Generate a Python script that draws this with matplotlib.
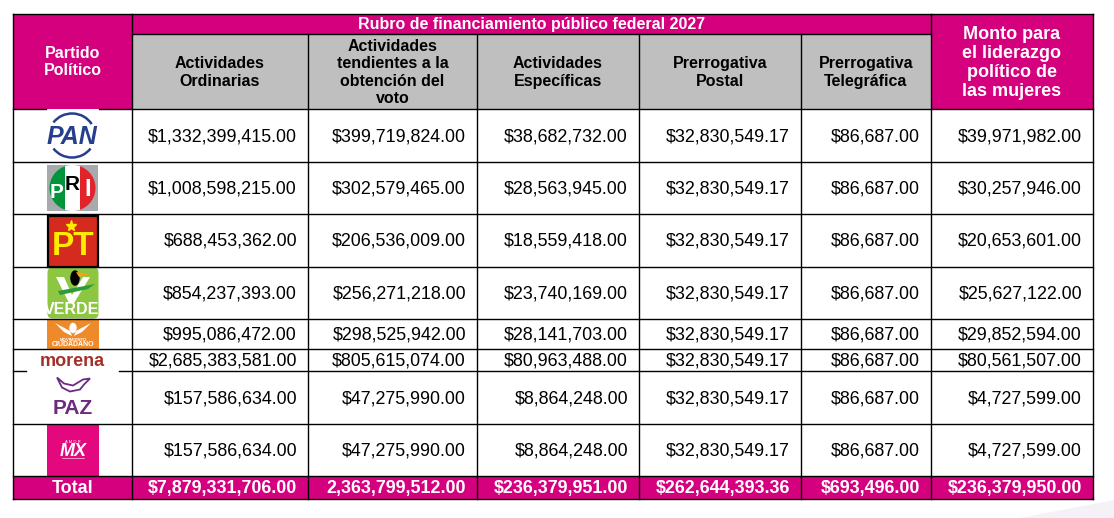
import matplotlib
matplotlib.use("Agg")
import matplotlib.pyplot as plt
from matplotlib.patches import Rectangle, Circle, Arc, Polygon, FancyBboxPatch, Ellipse

# --- table data ---
partidos = ["PAN", "PRI", "PT", "VERDE", "MC", "morena", "PAZ", "MX"]
ordinarias = [1332399415.00, 1008598215.00, 688453362.00, 854237393.00,
              995086472.00, 2685383581.00, 157586634.00, 157586634.00]
obtencion_voto = [399719824.00, 302579465.00, 206536009.00, 256271218.00,
                  298525942.00, 805615074.00, 47275990.00, 47275990.00]
especificas = [38682732.00, 28563945.00, 18559418.00, 23740169.00,
               28141703.00, 80963488.00, 8864248.00, 8864248.00]
postal = [32830549.17, 32830549.17, 32830549.17, 32830549.17,
          32830549.17, 32830549.17, 32830549.17, 32830549.17]
telegrafica = [86687.00, 86687.00, 86687.00, 86687.00,
               86687.00, 86687.00, 86687.00, 86687.00]
liderazgo_mujeres = [39971982.00, 30257946.00, 20653601.00, 25627122.00,
                     29852594.00, 80561507.00, 4727599.00, 4727599.00]
totales = ["$7,879,331,706.00", "2,363,799,512.00", "$236,379,951.00",
           "$262,644,393.36", "$693,496.00", "$236,379,950.00"]

titulo = "Rubro de financiamiento público federal 2027"
encabezados = ["Actividades\nOrdinarias",
               "Actividades\ntendientes a la\nobtención del\nvoto",
               "Actividades\nEspecíficas",
               "Prerrogativa\nPostal",
               "Prerrogativa\nTelegráfica"]
enc_partido = "Partido\nPolítico"
enc_mujeres = "Monto para\nel liderazgo\npolítico de\nlas mujeres"

columnas = [ordinarias, obtencion_voto, especificas, postal, telegrafica,
            liderazgo_mujeres]

# --- layout (pixels) ---
col_edges = [13, 132, 308, 477, 639, 801, 931, 1093]
row_edges = [109, 162, 214, 267, 319, 349, 371, 424, 476, 499]
top, band_bottom = 14, 34

MAGENTA = "#d4007d"
GRIS = "#bfbfbf"
FONT = "Liberation Sans"
NUM_SIZE = 12.9

fig = plt.figure(figsize=(11.14, 5.18), dpi=100)
ax = fig.add_axes([0, 0, 1, 1])
ax.set_xlim(0, 1114)
ax.set_ylim(518, 0)
ax.axis("off")

# faint decoration bottom-right
ax.add_patch(Polygon([(1020, 518), (1114, 500), (1114, 518)], color="#f4f2f7", lw=0))

# header backgrounds
ax.add_patch(Rectangle((col_edges[0], top), col_edges[1] - col_edges[0], row_edges[0] - top, color=MAGENTA, lw=0))
ax.add_patch(Rectangle((col_edges[1], top), col_edges[6] - col_edges[1], band_bottom - top, color=MAGENTA, lw=0))
ax.add_patch(Rectangle((col_edges[1], band_bottom), col_edges[6] - col_edges[1], row_edges[0] - band_bottom, color=GRIS, lw=0))
ax.add_patch(Rectangle((col_edges[6], top), col_edges[7] - col_edges[6], row_edges[0] - top, color=MAGENTA, lw=0))
# total row
ax.add_patch(Rectangle((col_edges[0], row_edges[-2]), col_edges[-1] - col_edges[0], row_edges[-1] - row_edges[-2], color=MAGENTA, lw=0))


# --- logos (approximations) ---
def logo_pan(cy):
    ax.add_patch(Rectangle((46, cy - 27), 53, 54, color="white", lw=0, zorder=3))
    ax.text(72, cy + 1, "PAN", color="#263f8c", fontsize=18, fontweight="bold",
            fontstyle="italic", ha="center", va="center", family=FONT, zorder=4)
    ax.add_patch(Arc((72, cy), 46, 44, theta1=215, theta2=330, color="#263f8c", lw=1.8, zorder=4))
    ax.add_patch(Arc((72, cy), 46, 44, theta1=35, theta2=145, color="#263f8c", lw=1.8, zorder=4))


def logo_pri(cy):
    ax.add_patch(Rectangle((47, cy - 23), 51, 46, color="#a7a9ac", lw=0, zorder=3))
    circ = Circle((72.5, cy), 23, transform=ax.transData)
    for x0, w, c in [(49, 16, "#00953b"), (65, 15, "white"), (80, 17, "#e3232c")]:
        r = Rectangle((x0, cy - 24), w, 48, color=c, lw=0, zorder=4)
        ax.add_patch(r)
        r.set_clip_path(circ)
    ax.text(57, cy + 4, "P", color="white", fontsize=15, fontweight="bold", ha="center", va="center", family=FONT, zorder=5)
    ax.text(72.5, cy - 3, "R", color="black", fontsize=15, fontweight="bold", ha="center", va="center", family=FONT, zorder=5)
    ax.text(88, cy + 1, "I", color="white", fontsize=17, fontweight="bold", ha="center", va="center", family=FONT, zorder=5)


def logo_pt(cy):
    ax.add_patch(Rectangle((48, cy - 25), 50, 51, facecolor="#d52b1e", edgecolor="black", lw=1.6, zorder=3))
    ax.plot([71], [cy - 15], marker="*", color="#ffed00", markersize=8, zorder=4)
    ax.text(73, cy + 6, "PT", color="#ffed00", fontsize=24, fontweight="bold", ha="center", va="center", family=FONT, zorder=4)


def logo_verde(cy):
    ax.add_patch(FancyBboxPatch((49, cy - 24), 48, 48, boxstyle="round,pad=1.5,rounding_size=5",
                                color="#8dc641", lw=0, zorder=3))
    ax.add_patch(Polygon([(56, cy - 16), (64, cy - 16), (72, cy + 2), (83, cy - 16), (90, cy - 16), (74, cy + 10), (69, cy + 10)],
                         color="white", lw=0, zorder=4))
    ax.add_patch(Polygon([(58, cy - 2), (95, cy - 9), (88, cy - 4), (60, cy + 2)], color="#2e9b3a", lw=0, zorder=5))
    ax.add_patch(Ellipse((75, cy - 15), 8, 14, color="black", zorder=5))
    ax.add_patch(Polygon([(76, cy - 21), (90, cy - 19), (79, cy - 16)], color="#f7a11a", lw=0, zorder=6))
    ax.text(72, cy + 16, "VERDE", color="white", fontsize=11.5, fontweight="bold", ha="center", va="center", family=FONT, zorder=5)


def logo_mc(cy):
    ax.add_patch(Rectangle((47, cy - 15), 52, 30, color="#ef8a2a", lw=0, zorder=3))
    ax.add_patch(Polygon([(55, cy - 11), (70, cy - 3), (72, cy + 2), (64, cy - 2)], color="white", lw=0, zorder=4))
    ax.add_patch(Polygon([(91, cy - 11), (76, cy - 3), (74, cy + 2), (82, cy - 2)], color="white", lw=0, zorder=4))
    ax.add_patch(Ellipse((73, cy - 6), 6, 9, color="white", zorder=4))
    ax.text(73, cy + 6, "MOVIMIENTO", color="white", fontsize=3.2, fontweight="bold", ha="center", va="center", family=FONT, zorder=4)
    ax.text(73, cy + 11, "CIUDADANO", color="white", fontsize=5, fontweight="bold", ha="center", va="center", family=FONT, zorder=4)


def logo_morena(cy):
    ax.add_patch(Rectangle((26, cy - 10), 93, 23, color="white", lw=0, zorder=3))
    ax.text(72.5, cy + 2, "morena", color="#a4302a", fontsize=13, fontweight="bold", ha="center", va="center", family=FONT, zorder=4)


def logo_paz(cy):
    ax.add_patch(Polygon([(57, cy - 20), (64, cy - 14), (73, cy - 12), (83, cy - 18), (90, cy - 19),
                          (84, cy - 13), (80, cy - 8), (70, cy - 6), (62, cy - 10)],
                         facecolor="none", edgecolor="#6c2b7f", lw=1.3, zorder=4))
    ax.text(72.5, cy + 11, "PAZ", color="#6c2b7f", fontsize=15, fontweight="bold", ha="center", va="center", family=FONT, zorder=4)


def logo_mx(cy):
    ax.add_patch(Rectangle((47, cy - 25), 52, 51, color="#e4087e", lw=0, zorder=3))
    ax.text(73, cy - 8, "A M O R", color="white", fontsize=3, ha="center", va="center", family=FONT, zorder=4)
    ax.text(73, cy + 1, "MX", color="white", fontsize=13, fontweight="bold", fontstyle="italic",
            ha="center", va="center", family=FONT, zorder=4)
    ax.plot([62, 84], [cy + 8, cy + 8], color="white", lw=0.4, zorder=4)


logos = [logo_pan, logo_pri, logo_pt, logo_verde, logo_mc, logo_morena, logo_paz, logo_mx]
for i, draw in enumerate(logos):
    draw((row_edges[i] + row_edges[i + 1]) / 2)

# --- grid lines ---
LW = 1.0
hlines = [(top, 13, 1093), (band_bottom, 132, 931),
          (row_edges[0], 13, 46), (row_edges[0], 99, 1093)]
for y in row_edges[1:]:
    if y == 371:
        hlines += [(y, 13, 26), (y, 119, 1093)]
    else:
        hlines.append((y, 13, 1093))
for y, x0, x1 in hlines:
    ax.plot([x0, x1], [y, y], color="black", lw=LW, zorder=6, solid_capstyle="projecting")
for x in [col_edges[0], col_edges[1], col_edges[6], col_edges[7]]:
    ax.plot([x, x], [top, row_edges[-1]], color="black", lw=LW, zorder=6, solid_capstyle="projecting")
for x in col_edges[2:6]:
    ax.plot([x, x], [band_bottom, row_edges[-1]], color="black", lw=LW, zorder=6)

# --- header text ---
ax.text((col_edges[1] + col_edges[6]) / 2, (top + band_bottom) / 2 + 1, titulo, color="white",
        fontsize=11.5, fontweight="bold", ha="center", va="center", family=FONT, zorder=7)
ax.text((col_edges[0] + col_edges[1]) / 2, 62, enc_partido, color="white", fontsize=11.5,
        fontweight="bold", ha="center", va="center", linespacing=1.2, family=FONT, zorder=7)
for j, h in enumerate(encabezados):
    ax.text((col_edges[j + 1] + col_edges[j + 2]) / 2, (band_bottom + row_edges[0]) / 2 + 1, h,
            color="black", fontsize=11.5, fontweight="bold", ha="center", va="center",
            linespacing=1.2, multialignment="center", family=FONT, zorder=7)
ax.text((col_edges[6] + col_edges[7]) / 2, 63, enc_mujeres, color="white", fontsize=13,
        fontweight="bold", ha="center", va="center", linespacing=1.15, family=FONT, zorder=7)

# --- body values ---
for i in range(len(partidos)):
    cy = (row_edges[i] + row_edges[i + 1]) / 2 + 1
    for j, serie in enumerate(columnas):
        ax.text(col_edges[j + 2] - 11, cy, f"${serie[i]:,.2f}", color="black", fontsize=NUM_SIZE,
                ha="right", va="center", family=FONT, zorder=7)

# --- totals ---
cy = (row_edges[-2] + row_edges[-1]) / 2 + 1
ax.text((col_edges[0] + col_edges[1]) / 2, cy, "Total", color="white", fontsize=NUM_SIZE,
        fontweight="bold", ha="center", va="center", family=FONT, zorder=7)
for j, t in enumerate(totales):
    ax.text(col_edges[j + 2] - 11, cy, t, color="white", fontsize=NUM_SIZE, fontweight="bold",
            ha="right", va="center", family=FONT, zorder=7)

plt.savefig("out.png", dpi=100)
plt.close()
